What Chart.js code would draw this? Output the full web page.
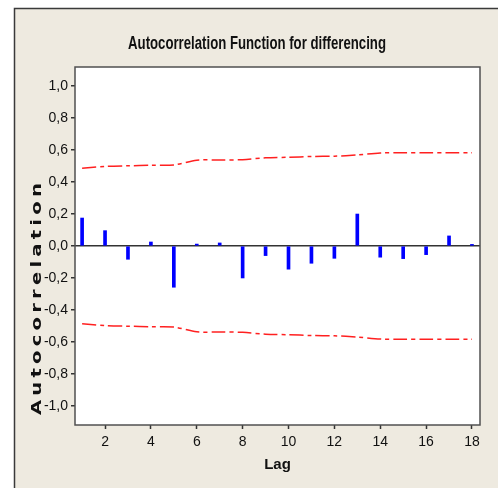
<!DOCTYPE html>
<html>
<head>
<meta charset="utf-8">
<title>Autocorrelation Function for differencing</title>
<script src="https://cdn.jsdelivr.net/npm/chart.js@4/dist/chart.umd.min.js"></script>
<style>
  html, body { margin: 0; padding: 0; background: #ffffff; }
  #wrap { width: 498px; height: 488px; }
</style>
</head>
<body>
<div id="wrap"><canvas id="acf" width="498" height="488"></canvas></div>
<script>
// Data
const lags = [1, 2, 3, 4, 5, 6, 7, 8, 9, 10, 11, 12, 13, 14, 15, 16, 17, 18];
const acfValues = [0.175, 0.096, -0.083, 0.025, -0.258, 0.012, 0.019, -0.200, -0.060,
                   -0.145, -0.108, -0.077, 0.200, -0.070, -0.079, -0.054, 0.063, 0.010];
const upperLimit = [0.486, 0.498, 0.502, 0.505, 0.507, 0.537, 0.538, 0.540, 0.552,
                    0.555, 0.560, 0.562, 0.570, 0.582, 0.583, 0.583, 0.583, 0.583];
const lowerLimit = [-0.486, -0.498, -0.502, -0.505, -0.507, -0.537, -0.538, -0.540, -0.552,
                    -0.555, -0.560, -0.562, -0.570, -0.582, -0.583, -0.583, -0.583, -0.583];
const xTicks = [2, 4, 6, 8, 10, 12, 14, 16, 18];
const yTicks = [-1.0, -0.8, -0.6, -0.4, -0.2, 0.0, 0.2, 0.4, 0.6, 0.8, 1.0];

const titleText = "Autocorrelation Function for differencing";
const yTitleText = "Autocorrelation";
const xTitleText = "Lag";

const BEIGE = "#eeeae0";
const FRAME = "#3a3a3a";

function pairs(ys) {
    return lags.map((x, i) => ({ x: x, y: ys[i] }));
}

// Background, frame, title and y label are painted here
const decor = {
    id: "decor",
    beforeDraw(chart) {
        const ctx = chart.ctx;
        const a = chart.chartArea;
        ctx.save();
        ctx.fillStyle = "#ffffff";
        ctx.fillRect(0, 0, chart.width, chart.height);
        ctx.fillStyle = BEIGE;
        ctx.fillRect(14, 8, chart.width - 14, chart.height - 8);
        ctx.strokeStyle = FRAME;
        ctx.lineWidth = 1.5;
        ctx.beginPath();
        ctx.moveTo(14.5, chart.height);
        ctx.lineTo(14.5, 8.5);
        ctx.lineTo(chart.width, 8.5);
        ctx.stroke();
        ctx.fillStyle = "#ffffff";
        ctx.fillRect(a.left, a.top, a.right - a.left, a.bottom - a.top);
        ctx.restore();
    },
    afterDraw(chart) {
        const ctx = chart.ctx;
        const a = chart.chartArea;
        ctx.save();
        ctx.strokeStyle = "#505050";
        ctx.lineWidth = 1.5;
        ctx.strokeRect(a.left, a.top, a.right - a.left, a.bottom - a.top);

        // main title, stretched vertically like the original
        ctx.fillStyle = "#111111";
        ctx.textAlign = "center";
        ctx.textBaseline = "middle";
        ctx.translate(257, 44);
        ctx.scale(1, 1.4);
        ctx.font = "bold 13.2px 'Liberation Sans Narrow', 'Liberation Sans', sans-serif";
        ctx.fillText(titleText, 0, 0);
        ctx.restore();

        // y axis title, rotated, letter spaced
        ctx.save();
        ctx.fillStyle = "#111111";
        ctx.textAlign = "center";
        ctx.textBaseline = "middle";
        ctx.translate(37, 297);
        ctx.scale(1, 1.4);
        ctx.rotate(-Math.PI / 2);
        ctx.font = "bold 14px 'DejaVu Sans', sans-serif";
        ctx.letterSpacing = "3px";
        ctx.fillText(yTitleText, 0, 0);
        ctx.restore();
    }
};

const tickFont = { family: "'Liberation Sans Narrow', 'Liberation Sans', sans-serif", size: 14 };

new Chart(document.getElementById("acf"), {
    type: "bar",
    data: {
        datasets: [
            {
                type: "bar",
                label: "ACF",
                data: pairs(acfValues),
                backgroundColor: "#0000ff",
                borderWidth: 0,
                barThickness: 3
            },
            {
                type: "line",
                label: "Upper limit",
                data: pairs(upperLimit),
                borderColor: "#ff2020",
                borderWidth: 1.5,
                borderDash: [14, 4, 4, 4],
                pointRadius: 0,
                tension: 0.3,
                fill: false
            },
            {
                type: "line",
                label: "Lower limit",
                data: pairs(lowerLimit),
                borderColor: "#ff2020",
                borderWidth: 1.5,
                borderDash: [14, 4, 4, 4],
                pointRadius: 0,
                tension: 0.3,
                fill: false
            }
        ]
    },
    options: {
        responsive: false,
        animation: false,
        layout: { padding: { left: 0, top: 67, right: 18, bottom: 0 } },
        plugins: {
            legend: { display: false },
            tooltip: { enabled: false },
            title: { display: false }
        },
        scales: {
            x: {
                type: "linear",
                offset: false,
                min: 0.69,
                max: 18.35,
                afterFit: (s) => { s.height = 63; },
                afterBuildTicks: (s) => { s.ticks = xTicks.map((v) => ({ value: v })); },
                border: { display: false },
                grid: {
                    offset: false,
                    drawOnChartArea: false,
                    tickLength: 4,
                    tickColor: "#333333",
                    tickWidth: 1.5
                },
                ticks: {
                    color: "#111111",
                    font: tickFont,
                    padding: 5,
                    maxRotation: 0,
                    autoSkip: false
                },
                title: {
                    display: true,
                    text: xTitleText,
                    color: "#111111",
                    font: { family: "'Liberation Sans Narrow', 'Liberation Sans', sans-serif", size: 15, weight: "bold" },
                    padding: { top: 0, bottom: 14 }
                }
            },
            y: {
                min: -1.12,
                max: 1.12,
                afterFit: (s) => { s.width = 75; },
                afterBuildTicks: (s) => { s.ticks = yTicks.map((v) => ({ value: v })); },
                border: { display: false },
                grid: {
                    color: (c) => (c.tick && c.tick.value === 0 ? "#333333" : "rgba(0,0,0,0)"),
                    lineWidth: 1.5,
                    tickLength: 4,
                    tickColor: "#333333",
                    tickWidth: 1.5
                },
                ticks: {
                    color: "#111111",
                    font: tickFont,
                    padding: 3,
                    autoSkip: false,
                    callback: (v) => v.toFixed(1).replace(".", ",")
                }
            }
        }
    },
    plugins: [decor]
});
</script>
</body>
</html>
